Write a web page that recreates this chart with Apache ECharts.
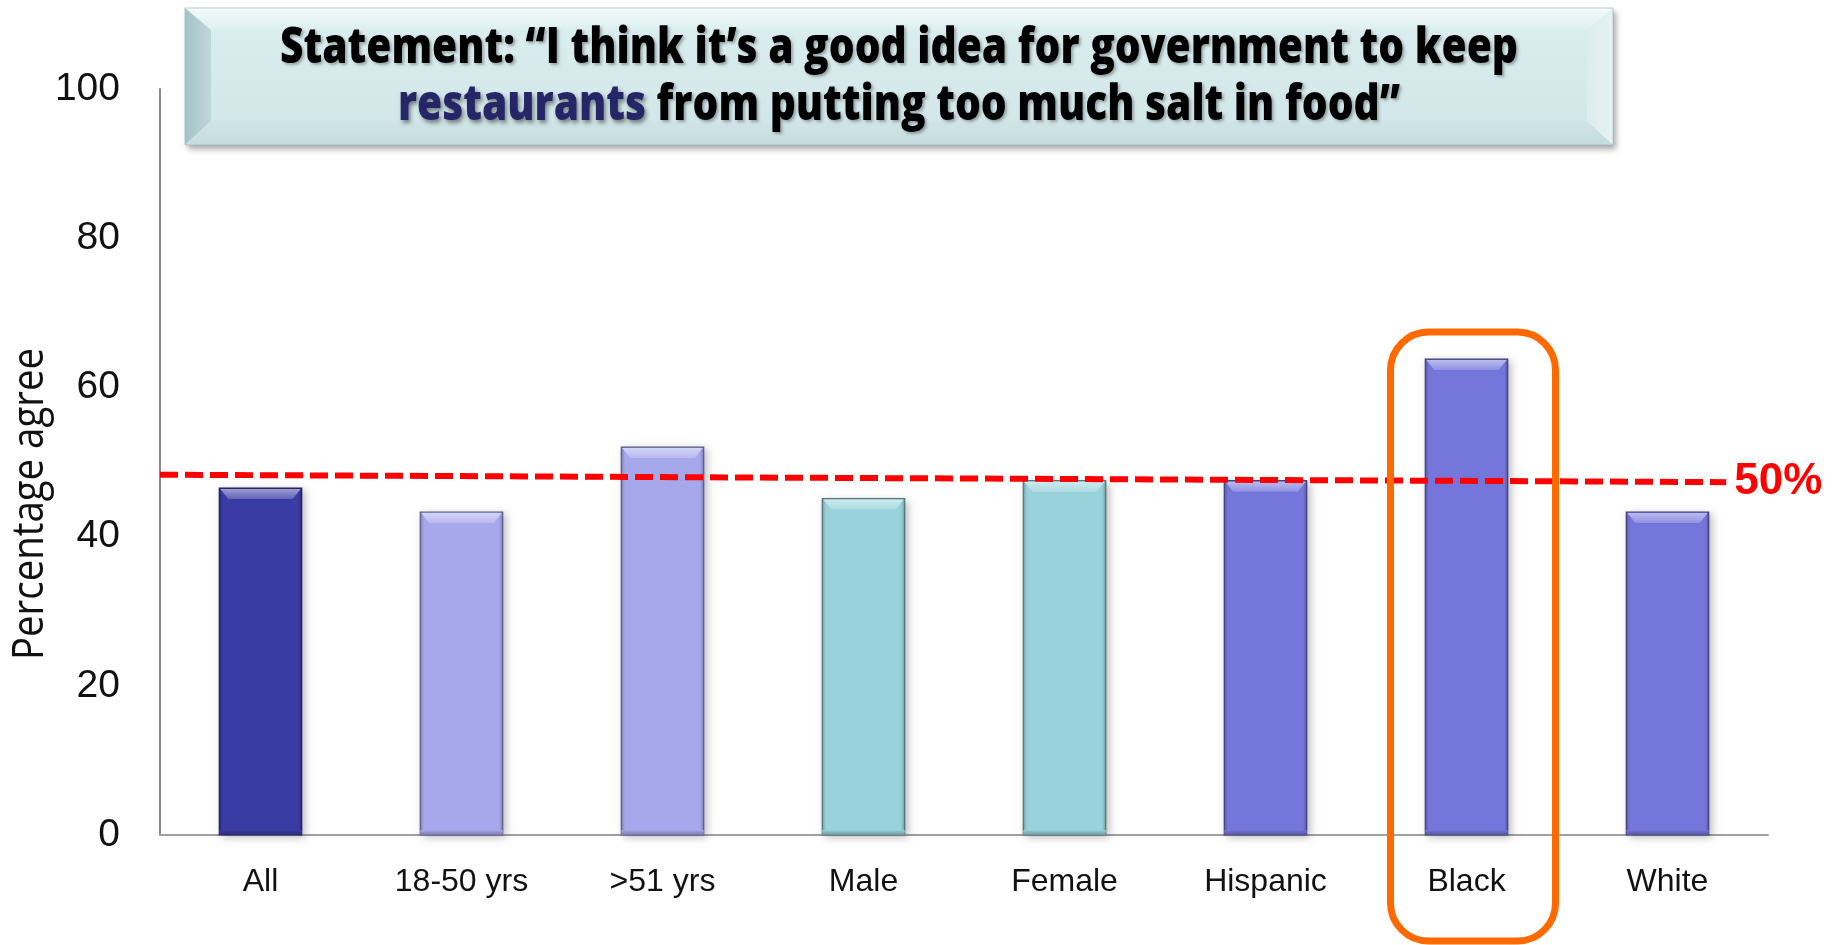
<!DOCTYPE html>
<html><head><meta charset="utf-8">
<script src="https://cdn.jsdelivr.net/npm/echarts@6/dist/echarts.min.js"></script>
<style>html,body{margin:0;padding:0;background:#fff}#c{width:1834px;height:945px}</style>
</head><body><div id="c"></div>
<script>
// ---- data ----
const categories = ['All', '18-50 yrs', '>51 yrs', 'Male', 'Female', 'Hispanic', 'Black', 'White'];
const agreeValues = [46.5, 43.3, 52.0, 45.1, 47.5, 47.5, 63.8, 43.3];
const barColors = ['#3A3CA4', '#A7A8EC', '#A7A8EC', '#99D2DB', '#99D2DB', '#7476DB', '#7476DB', '#7476DB'];
const yTicks = [0, 20, 40, 60, 80, 100];
const refLineX = [0, 0.974];
const refLineY = [48.3, 47.3];
const refLabel = '50%';
const highlightCategory = 'Black';
const titleLine1 = 'Statement: \u201cI think it\u2019s a good idea for government to keep';
const titleWord = 'restaurants';
const titleLine2Rest = ' from putting too much salt in food\u201d';
const yAxisName = 'Percentage agree';

// ---- helpers ----
function hexToRgb(h){h=h.replace('#','');return [parseInt(h.substr(0,2),16),parseInt(h.substr(2,2),16),parseInt(h.substr(4,2),16)];}
function mix(a,b,t){const A=hexToRgb(a),B=hexToRgb(b);return 'rgb('+A.map((v,i)=>Math.round(v+(B[i]-v)*t)).join(',')+')';}
function measure(text, font){const c=document.createElement('canvas').getContext('2d');c.font=font;return c.measureText(text).width;}

const chart = echarts.init(document.getElementById('c'));
const LG = echarts.graphic.LinearGradient;

const titleFont = 50;
const titleWeight = 800;
const titleFontStr = titleWeight + ' ' + titleFont + 'px "Open Sans"';
const titleScale = 1238 / measure(titleLine1, titleFontStr);
const yNameFont = 44;
const yNameScale = 312 / measure(yAxisName, yNameFont + 'px "Open Sans"');

const bx = 185, by = 8, bw = 1428, bh = 137, ins = 26, insT = 22, insB = 24;
const shadowTxt = { textShadowColor: 'rgba(0,0,0,0.3)', textShadowBlur: 3, textShadowOffsetX: 2, textShadowOffsetY: 2 };

chart.setOption({
  animation: false,
  backgroundColor: '#ffffff',
  grid: { left: 160, right: 66, top: 89, bottom: 110, containLabel: false },
  xAxis: [{
    type: 'category', data: categories, boundaryGap: true,
    axisLine: { show: true, lineStyle: { color: '#A0A0A0', width: 2 } },
    axisTick: { show: false },
    axisLabel: { fontFamily: 'Liberation Sans, Arial, sans-serif', fontSize: 32, color: '#111', margin: 31 },
    splitLine: { show: false }
  }, {
    type: 'value', min: 0, max: 1, show: false
  }],
  yAxis: {
    type: 'value', min: yTicks[0], max: yTicks[yTicks.length - 1], interval: 20,
    axisLine: { show: true, lineStyle: { color: '#8C8C8C', width: 2 } },
    axisTick: { show: false },
    splitLine: { show: false },
    axisLabel: { fontFamily: 'Liberation Sans, Arial, sans-serif', fontSize: 39, color: '#111', margin: 40 }
  },
  series: [{
    type: 'custom',
    xAxisIndex: 0,
    data: agreeValues.map((v, i) => [i, v]),
    encode: { x: 0, y: 1 },
    renderItem: function (params, api) {
      const idx = params.dataIndex;
      const v = api.value(1);
      const p0 = api.coord([api.value(0), 0]);
      const p1 = api.coord([api.value(0), v]);
      const band = api.size([1, 0])[0];
      const w = band * 0.41;
      const x = p1[0] - w / 2, y = p1[1], h = p0[1] - p1[1];
      const base = barColors[idx];
      const dark = mix(base, '#000000', 0.28);
      const light = mix(base, '#ffffff', 0.5);
      const bev = 9;
      return { type: 'group', children: [
        { type: 'rect', shape: { x: x, y: y, width: w, height: h },
          style: { fill: base, shadowBlur: 8, shadowColor: 'rgba(0,0,0,0.28)', shadowOffsetX: 3, shadowOffsetY: 2 } },
        { type: 'rect', shape: { x: x, y: y, width: w, height: h },
          style: { fill: new LG(0, 0, 1, 0, [
            { offset: 0, color: dark }, { offset: 0.05, color: base },
            { offset: 0.95, color: base }, { offset: 1, color: dark }]),
            stroke: mix(base, '#000000', 0.45), lineWidth: 1.2 } },
        { type: 'rect', shape: { x: x, y: y + h - 5, width: w, height: 5 },
          style: { fill: new LG(0, 0, 0, 1, [{ offset: 0, color: base }, { offset: 1, color: dark }]) } },
        { type: 'polygon', shape: { points: [[x + 1, y + 1], [x + w - 1, y + 1], [x + w - bev, y + bev + 2], [x + bev, y + bev + 2]] },
          style: { fill: new LG(0, 0, 0, 1, [{ offset: 0, color: light }, { offset: 1, color: mix(base, '#ffffff', 0.2) }]) } }
      ] };
    }
  }, {
    type: 'line',
    xAxisIndex: 1,
    data: refLineX.map((x, i) => [x, refLineY[i]]),
    symbol: 'none',
    lineStyle: { color: '#FF0000', width: 6, type: [18, 7] },
    endLabel: { show: true, formatter: refLabel, color: '#FF0000', fontWeight: 'bold',
      fontFamily: 'Liberation Sans, Arial, sans-serif', fontSize: 44, distance: 8 },
    z: 5
  }],
  graphic: { elements: [
    { type: 'group', id: 'titlebox', z: 10, children: [
      { type: 'rect', shape: { x: bx, y: by, width: bw, height: bh },
        style: { fill: '#D5E9EB', shadowBlur: 6, shadowColor: 'rgba(0,0,0,0.35)', shadowOffsetX: 3, shadowOffsetY: 4 } },
      { type: 'polygon', shape: { points: [[bx, by], [bx + bw, by], [bx + bw - ins, by + insT], [bx + ins, by + insT]] },
        style: { fill: new LG(0, 0, 0, 1, [{ offset: 0, color: '#F4FBFB' }, { offset: 1, color: '#DDEFF0' }]) } },
      { type: 'polygon', shape: { points: [[bx, by], [bx + ins, by + insT], [bx + ins, by + bh - insB], [bx, by + bh]] },
        style: { fill: new LG(0, 0, 1, 0, [{ offset: 0, color: '#A3C3C6' }, { offset: 1, color: '#BFD8DA' }]) } },
      { type: 'polygon', shape: { points: [[bx + bw, by], [bx + bw, by + bh], [bx + bw - ins, by + bh - insB], [bx + bw - ins, by + insT]] },
        style: { fill: new LG(0, 0, 1, 0, [{ offset: 0, color: '#DCEDEE' }, { offset: 1, color: '#E6F2F3' }]) } },
      { type: 'polygon', shape: { points: [[bx, by + bh], [bx + ins, by + bh - insB], [bx + bw - ins, by + bh - insB], [bx + bw, by + bh]] },
        style: { fill: new LG(0, 0, 0, 1, [{ offset: 0, color: '#D0E5E7' }, { offset: 1, color: '#C4DCDE' }]) } },
      { type: 'rect', shape: { x: bx + ins, y: by + insT, width: bw - 2 * ins, height: bh - insT - insB },
        style: { fill: new LG(0, 0, 0, 1, [{ offset: 0, color: '#DAEDEE' }, { offset: 1, color: '#D2E7E9' }]) } },
      { type: 'rect', shape: { x: bx, y: by, width: bw, height: bh },
        style: { fill: 'none', stroke: 'rgba(150,180,183,0.6)', lineWidth: 1 } },
      { type: 'text', x: bx + bw / 2, y: 49, scaleX: titleScale, scaleY: 1,
        style: Object.assign({ text: titleLine1, fontFamily: 'Open Sans', fontWeight: titleWeight, fontSize: titleFont,
          fill: '#000000', align: 'center', verticalAlign: 'middle' }, shadowTxt) },
      { type: 'text', x: bx + bw / 2, y: 106, scaleX: titleScale, scaleY: 1,
        style: { text: '{b|' + titleWord + '}{a|' + titleLine2Rest + '}', align: 'center', verticalAlign: 'middle',
          fontFamily: 'Open Sans', fontWeight: titleWeight, fontSize: titleFont,
          rich: {
            a: Object.assign({ fontFamily: 'Open Sans', fontWeight: titleWeight, fontSize: titleFont, fill: '#000000' }, shadowTxt),
            b: Object.assign({ fontFamily: 'Open Sans', fontWeight: titleWeight, fontSize: titleFont, fill: '#242668' },
              { textShadowColor: 'rgba(0,0,0,0.45)', textShadowBlur: 4, textShadowOffsetX: 2, textShadowOffsetY: 3 })
          } } }
    ] },
    { type: 'text', id: 'yname', x: 30, y: 504, rotation: Math.PI / 2, scaleX: yNameScale, scaleY: 1,
      style: { text: yAxisName, fontFamily: 'Open Sans', fontSize: yNameFont, fill: '#111',
        align: 'center', verticalAlign: 'middle' } }
  ] }
});

// highlight box around the chosen category, positioned from the axes
const hi = categories.indexOf(highlightCategory);
const cx = chart.convertToPixel({ xAxisIndex: 0 }, hi);
const topY = chart.convertToPixel({ yAxisIndex: 0 }, agreeValues[hi]);
const boxTop = topY - 27;
chart.setOption({
  graphic: { elements: [{
    type: 'rect', id: 'hlbox', z: 20,
    shape: { x: cx - 76, y: boxTop, width: 165, height: 941 - boxTop, r: 38 },
    style: { fill: 'none', stroke: '#FF6A00', lineWidth: 7 }
  }] }
});
</script>
</body></html>
